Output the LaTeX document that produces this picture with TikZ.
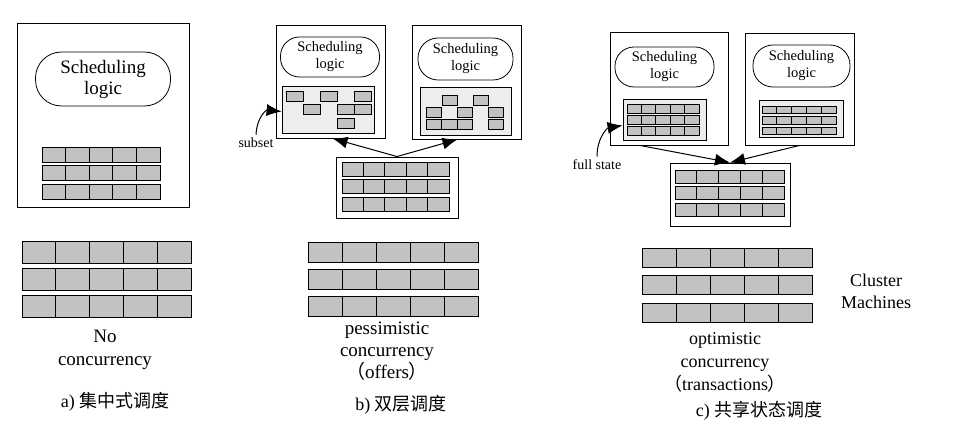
\documentclass[tikz,border=0pt]{standalone}
\usepackage{fontspec}
\setmainfont{Liberation Serif}
\newfontfamily\cjk{Noto Sans CJK SC}
\usetikzlibrary{arrows.meta}

\begin{document}
\begin{tikzpicture}[x=1pt, y=-1pt]
	\tikzstyle{frame}=[draw, line width=0.9pt, fill=white, inner sep=0pt]
	\tikzstyle{logic}=[draw, rectangle, line width=0.8pt, align=center, inner sep=0pt]
	\tikzstyle{pool}=[draw, line width=0.8pt, fill=black!7, inner sep=0pt]
	\tikzstyle{cell}=[draw, line width=0.7pt, fill=black!24]
	\tikzstyle{arrow}=[draw, line width=1pt, -{Latex[length=15pt,width=12pt]}]
	\tikzstyle{desc}=[anchor=north, align=center, inner sep=0pt]
	\tikzstyle{caption}=[anchor=base, font=\fontsize{18}{20}\selectfont]
	\tikzstyle{small}=[anchor=base, font=\fontsize{14}{16}\selectfont]
	\newcommand\bigfont{\fontsize{19}{21}\selectfont}
	\newcommand\midfont{\fontsize{14.5}{17}\selectfont}
	% three rows of five machines: x, y, width, row height, row pitch
	\newcommand\rack[5]{%
		\foreach \r in {0,1,2}
			\foreach \c in {0,...,4}
				\draw [cell] ({#1+\c*#3/5},{#2+\r*#5}) rectangle ++({#3/5},#4);
	}

	\useasboundingbox (0,0) rectangle (972,435);

	 % a) Monolithic
	\node [frame, minimum width=172, minimum height=184] at (103,115) (frameA) {};
	\node [logic, minimum width=135, minimum height=54, rounded corners=26pt, font=\bigfont] at (103,79) (logicA) {Scheduling\\logic};
	\rack{42}{147}{118}{15}{18.5}
	\rack{22}{241}{169}{22}{27}
	\node [desc, font=\fontsize{19}{23}\selectfont] at (105,330) (descA) {No\\concurrency};
	\node [caption] at (115,408) (capA) {a) {\cjk 集中式调度}};

	 % b) Two-level
	\node [frame, minimum width=109, minimum height=113] at (330.5,81.5) (frameB1) {};
	\node [logic, minimum width=99, minimum height=40, rounded corners=19pt, font=\midfont] at (330,57) (logicB1) {Scheduling\\logic};
	\node [pool, minimum width=92, minimum height=47] at (328,109.5) (poolB1) {};
	\foreach \bx/\by in {286/91, 320/91, 354/91, 303/104, 337/104, 354/104, 337/118}
		\draw [cell] (\bx,\by) rectangle ++(17,10);

	\node [frame, minimum width=109, minimum height=114] at (466.5,82) (frameB2) {};
	\node [logic, minimum width=95, minimum height=42, rounded corners=20pt, font=\midfont] at (465.5,59) (logicB2) {Scheduling\\logic};
	\node [pool, minimum width=91, minimum height=48] at (465.5,111) (poolB2) {};
	\foreach \bx/\by in {442/95, 473/95, 426/107, 457/107, 488/107, 426/119, 441.5/119, 457/119, 488/119}
		\draw [cell] (\bx,\by) rectangle ++(15.5,10);

	\node [frame, minimum width=122, minimum height=61] at (397,187.5) (stateB) {};
	\rack{342}{162}{107}{14}{17.5}
	\rack{308}{242}{170}{20}{27}

	\path [arrow] (stateB.north) -- ([xshift=2pt]frameB1.south);
	\path [arrow] (stateB.north) -- ([xshift=-9pt]frameB2.south);
	\node [small] at (256,148) (subset) {subset};
	\path [arrow] (subset.north) .. controls (257,117) and (266,110) .. ([yshift=-2pt]poolB1.west);

	\node [desc, font=\fontsize{19}{22}\selectfont] at (387,322) (descB) {pessimistic\\concurrency\\{\cjk （}offers{\cjk ）}};
	\node [caption] at (401,410) (capB) {b) {\cjk 双层调度}};

	 % c) Shared state
	\node [frame, minimum width=118, minimum height=113] at (669,88.5) (frameC1) {};
	\node [logic, minimum width=99, minimum height=40, rounded corners=19pt, font=\midfont] at (664.5,67) (logicC1) {Scheduling\\logic};
	\node [pool, minimum width=83, minimum height=41] at (664.5,119.5) (poolC1) {};
	\rack{627}{104}{72}{9}{11}

	\node [frame, minimum width=109, minimum height=112] at (799.5,89) (frameC2) {};
	\node [logic, minimum width=97, minimum height=42, rounded corners=20pt, font=\midfont] at (801.5,66) (logicC2) {Scheduling\\logic};
	\node [pool, minimum width=84, minimum height=37] at (801,118.5) (poolC2) {};
	\rack{762}{106}{74}{7.5}{10.5}

	\node [frame, minimum width=120, minimum height=63] at (730,194.5) (stateC) {};
	\rack{675}{170}{109}{13}{16.5}
	\rack{642}{248}{170}{19}{27.5}

	\path [arrow] ([xshift=-29pt]frameC1.south) -- (stateC.north);
	\path [arrow] (frameC2.south) -- (stateC.north);
	\node [small] at (597,170) (fullstate) {full state};
	\path [arrow] (fullstate.north) .. controls (597,138) and (607,128) .. ([yshift=-6pt]poolC1.west);

	\node [desc, font=\fontsize{18}{22}\selectfont] at (876,274) (cluster) {Cluster\\Machines};
	\node [desc, font=\fontsize{18}{23}\selectfont] at (725,332) (descC) {optimistic\\concurrency\\{\cjk （}transactions{\cjk ）}};
	\node [caption] at (759,417) (capC) {c) {\cjk 共享状态调度}};
\end{tikzpicture}
\end{document}
